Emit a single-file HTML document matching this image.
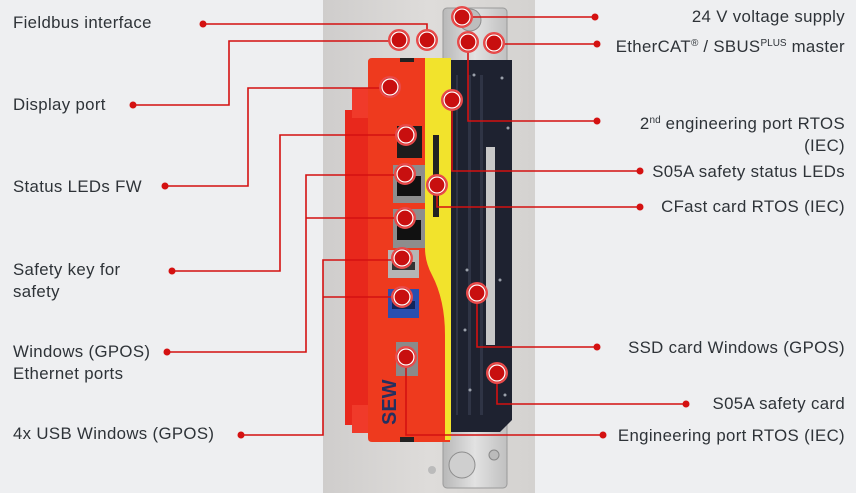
<!DOCTYPE html>
<html><head><meta charset="utf-8"><style>
html,body{margin:0;padding:0;}
body{width:856px;height:493px;background:#eeeff1;position:relative;overflow:hidden;font-family:"Liberation Sans",sans-serif;}
.t{position:absolute;font-size:16.8px;letter-spacing:0.35px;color:#2e3338;line-height:22px;white-space:nowrap;}
.r{text-align:right;right:11px;}
sup{font-size:10px;line-height:0;vertical-align:6px;letter-spacing:0;}
</style></head><body>
<svg width="856" height="493" style="position:absolute;left:0;top:0">
<defs>
<linearGradient id="wall" x1="0" x2="1"><stop offset="0" stop-color="#cfcdcc"/><stop offset=".5" stop-color="#dedcda"/><stop offset="1" stop-color="#d4d2d0"/></linearGradient>
<linearGradient id="rail" x1="0" x2="1"><stop offset="0" stop-color="#b8b8b8"/><stop offset=".5" stop-color="#e2e2e2"/><stop offset="1" stop-color="#c0c0c0"/></linearGradient>
</defs>
<rect x="323" y="0" width="212" height="493" fill="url(#wall)"/>
<rect x="443" y="8" width="64" height="480" rx="4" fill="url(#rail)" stroke="#9a9a9a"/>
<circle cx="470" cy="20" r="11" fill="#bdbdbd" stroke="#8d8d8d"/>
<circle cx="462" cy="465" r="13" fill="#cfcfcf" stroke="#8d8d8d"/>
<circle cx="494" cy="455" r="5" fill="#bbb" stroke="#888"/>
<circle cx="432" cy="470" r="4" fill="#bbb"/>
<path d="M445 60 H512 V420 L500 432 H445 Z" fill="#1e2230"/>
<g fill="#2f3445"><rect x="468" y="75" width="3" height="340"/><rect x="480" y="75" width="3" height="340"/><rect x="456" y="75" width="2" height="340"/></g>
<rect x="486" y="147" width="9" height="198" fill="#c8c8c8"/>
<g fill="#9aa0aa"><circle cx="474" cy="75" r="1.5"/><circle cx="502" cy="78" r="1.5"/><circle cx="508" cy="128" r="1.5"/><circle cx="467" cy="270" r="1.5"/><circle cx="500" cy="280" r="1.5"/><circle cx="470" cy="390" r="1.5"/><circle cx="505" cy="395" r="1.5"/><circle cx="465" cy="330" r="1.5"/></g>
<rect x="345" y="110" width="25" height="315" fill="#e8281c"/>
<rect x="352" y="88" width="18" height="30" fill="#f03a2a"/>
<rect x="352" y="405" width="18" height="28" fill="#f03a2a"/>
<path d="M372 58 H450 V442 H372 Q368 442 368 438 V62 Q368 58 372 58 Z" fill="#ee3a1e"/>
<path d="M425 58 H451 V440 H445 V335 Q445 300 432 275 Q425 262 425 248 Z" fill="#f2e32c"/>
<rect x="400" y="58" width="14" height="4" fill="#222"/>
<rect x="400" y="437" width="14" height="5" fill="#222"/>
<rect x="397" y="126" width="25" height="32" fill="#1c1c1c"/>
<rect x="393" y="165" width="32" height="38" fill="#8d8d8d"/><rect x="397" y="176" width="24" height="20" fill="#111"/>
<rect x="393" y="209" width="32" height="39" fill="#8d8d8d"/><rect x="397" y="220" width="24" height="20" fill="#111"/>
<rect x="388" y="250" width="31" height="28" fill="#b5b5b5"/><rect x="392" y="262" width="23" height="8" fill="#333"/>
<rect x="388" y="289" width="31" height="29" fill="#2a4fb0"/><rect x="392" y="301" width="23" height="8" fill="#11245a"/>
<rect x="396" y="342" width="22" height="34" fill="#8a8a8a"/>
<rect x="433" y="135" width="6" height="82" fill="#222"/>
<text x="0" y="0" transform="translate(396,425) rotate(-90)" font-family="Liberation Sans" font-weight="bold" font-size="20" fill="#243060">SEW</text>
<g stroke="#d41111" stroke-width="1.6" fill="none">
<path d="M203 24 H427 V40"/>
<path d="M462 17 H595"/>
<path d="M494 44 H597"/>
<path d="M133 105 H229 V41 H399"/>
<path d="M468 42 V121 H597"/>
<path d="M165 186 H248 V88 H390"/>
<path d="M452 100 V171 H640"/>
<path d="M437 185 V207 H640"/>
<path d="M172 271 H280 V135 H406"/>
<path d="M167 352 H306 V175 H405 M306 218 H405"/>
<path d="M241 435 H323 V260 H402 M323 297 H402"/>
<path d="M477 293 V347 H597"/>
<path d="M497 373 V404 H686"/>
<path d="M406 357 V435 H603"/>
</g>
<g fill="#d41111">
<circle cx="203" cy="24" r="3.5"/><circle cx="595" cy="17" r="3.5"/><circle cx="597" cy="44" r="3.5"/>
<circle cx="133" cy="105" r="3.5"/><circle cx="597" cy="121" r="3.5"/><circle cx="165" cy="186" r="3.5"/>
<circle cx="640" cy="171" r="3.5"/><circle cx="640" cy="207" r="3.5"/><circle cx="172" cy="271" r="3.5"/>
<circle cx="167" cy="352" r="3.5"/><circle cx="241" cy="435" r="3.5"/><circle cx="597" cy="347" r="3.5"/>
<circle cx="686" cy="404" r="3.5"/><circle cx="603" cy="435" r="3.5"/>
</g>
<g fill="#c80f0f" stroke="#e84a4a" stroke-width="2">
<circle cx="462" cy="17" r="10"/><circle cx="399" cy="40" r="10"/><circle cx="427" cy="40" r="10"/>
<circle cx="468" cy="42" r="10"/><circle cx="494" cy="43" r="10"/><circle cx="390" cy="87" r="10"/>
<circle cx="452" cy="100" r="10"/><circle cx="406" cy="135" r="10"/><circle cx="405" cy="174" r="10"/>
<circle cx="437" cy="185" r="10"/><circle cx="405" cy="218" r="10"/><circle cx="402" cy="258" r="10"/>
<circle cx="402" cy="297" r="10"/><circle cx="477" cy="293" r="10"/><circle cx="406" cy="357" r="10"/>
<circle cx="497" cy="373" r="10"/>
</g>
<g fill="none" stroke="#fff" stroke-width="1.3">
<circle cx="462" cy="17" r="8"/><circle cx="399" cy="40" r="8"/><circle cx="427" cy="40" r="8"/>
<circle cx="468" cy="42" r="8"/><circle cx="494" cy="43" r="8"/><circle cx="390" cy="87" r="8"/>
<circle cx="452" cy="100" r="8"/><circle cx="406" cy="135" r="8"/><circle cx="405" cy="174" r="8"/>
<circle cx="437" cy="185" r="8"/><circle cx="405" cy="218" r="8"/><circle cx="402" cy="258" r="8"/>
<circle cx="402" cy="297" r="8"/><circle cx="477" cy="293" r="8"/><circle cx="406" cy="357" r="8"/>
<circle cx="497" cy="373" r="8"/>
</g>
</svg>
<div class="t" style="left:13px;top:12px">Fieldbus interface</div>
<div class="t" style="left:13px;top:94px">Display port</div>
<div class="t" style="left:13px;top:176px">Status LEDs FW</div>
<div class="t" style="left:13px;top:259px">Safety key for<br>safety</div>
<div class="t" style="left:13px;top:341px">Windows (GPOS)<br>Ethernet ports</div>
<div class="t" style="left:13px;top:423px">4x USB Windows (GPOS)</div>
<div class="t r" style="top:6px">24 V voltage supply</div>
<div class="t r" style="top:36px">EtherCAT<sup>®</sup> / SBUS<sup>PLUS</sup> master</div>
<div class="t r" style="top:113px">2<sup>nd</sup> engineering port RTOS<br>(IEC)</div>
<div class="t r" style="top:161px">S05A safety status LEDs</div>
<div class="t r" style="top:196px">CFast card RTOS (IEC)</div>
<div class="t r" style="top:337px">SSD card Windows (GPOS)</div>
<div class="t r" style="top:393px">S05A safety card</div>
<div class="t r" style="top:425px">Engineering port RTOS (IEC)</div>
</body></html>
